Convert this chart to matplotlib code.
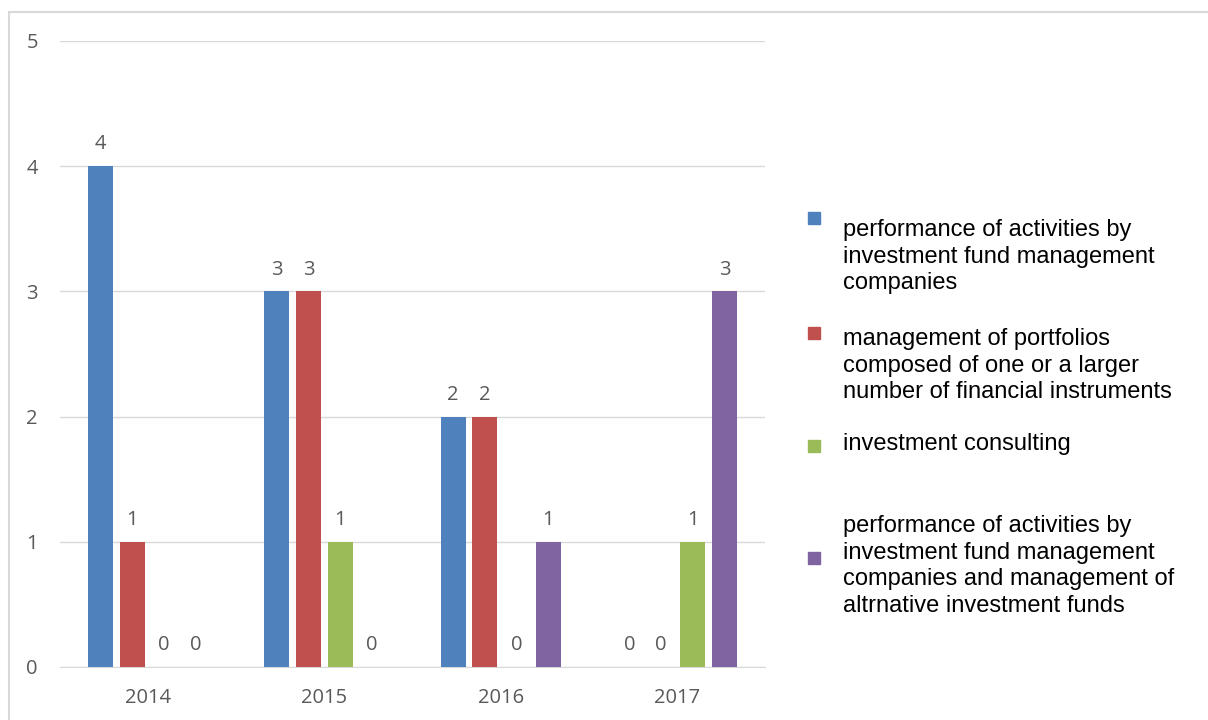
import matplotlib.pyplot as plt
import matplotlib.patches as mpatches
import numpy as np

years = ["2014", "2015", "2016", "2017"]
series = [
    "performance of activities by\ninvestment fund management\ncompanies",
    "management of portfolios\ncomposed of one or a larger\nnumber of financial instruments",
    "investment consulting",
    "performance of activities by\ninvestment fund management\ncompanies and management of\naltrnative investment funds",
]
values = [
    [4, 3, 2, 0],
    [1, 3, 2, 0],
    [0, 1, 0, 1],
    [0, 0, 1, 3],
]
colors = ["#4F81BD", "#C0504D", "#9BBB59", "#8064A2"]

fig = plt.figure(figsize=(12.08, 7.2), dpi=100)
ax = fig.add_axes([60 / 1208, 1 - 667 / 720, 705 / 1208, 626 / 720])

# outer chart frame (top and left edges visible)
fig.patches.append(mpatches.Rectangle((9 / 1208, -0.1), 1.2, 0.1 + (720 - 12) / 720,
                                      transform=fig.transFigure, fill=False,
                                      edgecolor="#D9D9D9", linewidth=1.5))

x = np.arange(len(years))
step = 0.18
width = 0.142
label_font = "Open Sans"
for i, (vals, c) in enumerate(zip(values, colors)):
    pos = x + (i - 1.5) * step
    bars = ax.bar(pos, vals, width, color=c, zorder=3)
    ax.bar_label(bars, labels=[str(v) for v in vals], padding=8.5,
                 fontsize=14.5, color="#595959", fontfamily=label_font)

ax.set_xlim(-0.5, 3.5)
ax.set_ylim(0, 5)
ax.set_yticks(range(6))
ax.set_xticks(x)
ax.set_xticklabels(years)
ax.tick_params(length=0, labelsize=14.5, labelcolor="#595959")
ax.tick_params(axis="x", pad=15)
ax.tick_params(axis="y", pad=16)
for lab in ax.get_xticklabels() + ax.get_yticklabels():
    lab.set_fontfamily(label_font)
ax.grid(axis="y", color="#D9D9D9", linewidth=1, zorder=0)
for s in ["top", "right", "left"]:
    ax.spines[s].set_visible(False)
ax.spines["bottom"].set_color("#D9D9D9")

# legend drawn by hand
text_tops = [219, 328, 433, 515]
marker_y = [218, 333, 446, 558]
for name, c, ty, my in zip(series, colors, text_tops, marker_y):
    fig.patches.append(mpatches.Rectangle(((814 - 6) / 1208, 1 - (my + 6) / 720),
                                          12 / 1208, 12 / 720,
                                          transform=fig.transFigure,
                                          color=c))
    fig.text(843 / 1208, 1 - ty / 720, name, fontsize=17, va="top", ha="left",
             fontfamily="Liberation Sans", linespacing=1.27, color="black")

plt.savefig("out.png", dpi=100)
